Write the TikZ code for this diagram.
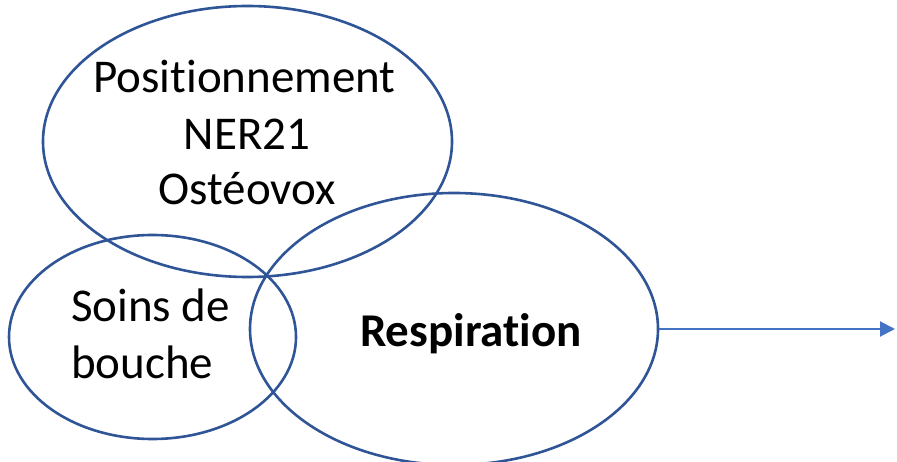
\documentclass[tikz,border=0pt]{standalone}
\usepackage{fontspec}
\setmainfont{Carlito}[Ligatures=NoCommon]
\usetikzlibrary{shapes.geometric,arrows.meta}
\definecolor{ringblue}{HTML}{2F5597}
\definecolor{arrowblue}{HTML}{4472C4}
\tikzset{
  ring/.style={ellipse, draw=ringblue, line width=2.6pt, inner sep=0pt},
  label/.style={font=\fontsize{47}{56}\selectfont, inner sep=0pt, anchor=base},
  flow/.style={draw=arrowblue, line width=2pt, -{Triangle[length=15pt,width=15pt]}}
}
\begin{document}
\begin{tikzpicture}[x=1pt,y=-1pt]
\useasboundingbox (0,0) rectangle (897,462);
\node[ring, minimum width=409pt, minimum height=271pt] (top) at (247.5,141.5) {};
\node[ring, minimum width=287pt, minimum height=204pt] (left) at (152.5,337) {};
\node[ring, minimum width=408pt, minimum height=272pt] (right) at (454,329) {};
\node[label] (t1) at (244.5,93) {Positionnement};
\node[label] (t2) at (247,150) {NER21};
\node[label] (t3) at (247,205) {Ostéovox};
\node[label, anchor=base west] (s1) at (71,322) {Soins de};
\node[label, anchor=base west] (s2) at (71,378) {bouche};
\node[label, font=\fontsize{47}{56}\selectfont\bfseries] (r) at (471,347) {Respiration};
\coordinate (end) at (895,329);
\draw[flow] (right.east) -- (end);
\end{tikzpicture}
\end{document}
